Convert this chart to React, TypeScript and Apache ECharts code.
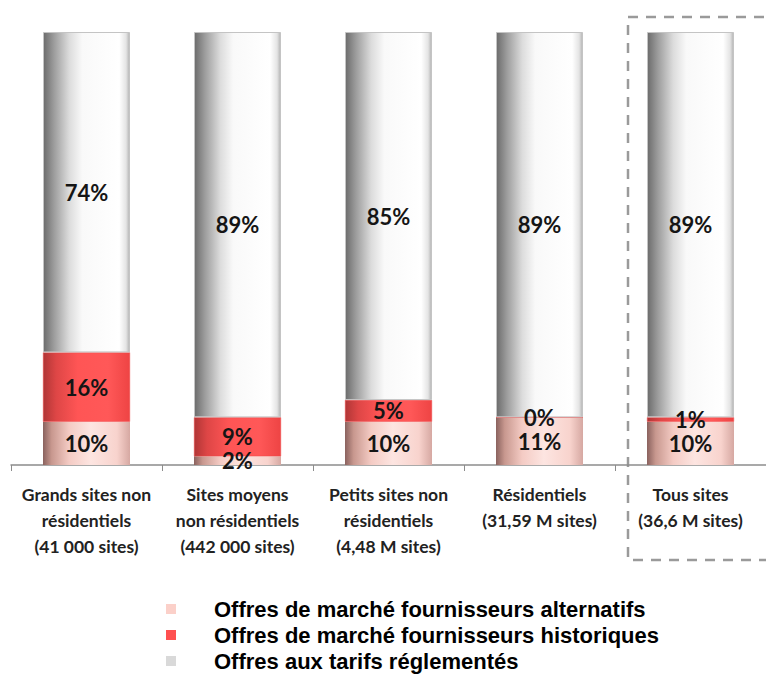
import React, { useEffect, useRef } from "react";
import * as echarts from "echarts";

const categories = [
  "Grands sites non\nrésidentiels\n(41 000 sites)",
  "Sites moyens\nnon résidentiels\n(442 000 sites)",
  "Petits sites non\nrésidentiels\n(4,48 M sites)",
  "Résidentiels\n(31,59 M sites)",
  "Tous sites\n(36,6 M sites)",
];
const seriesNames = [
  "Offres de marché fournisseurs alternatifs",
  "Offres de marché fournisseurs historiques",
  "Offres aux tarifs réglementés",
];
const alternatifs = [10, 2, 10, 11, 10];
const historiques = [16, 9, 5, 0, 1];
const reglementes = [74, 89, 85, 89, 89];
const legendColors = ["#fbd0c9", "#ff5050", "#d9d9d9"];

const grad = (stops: [number, string][]) =>
  new echarts.graphic.LinearGradient(
    0, 0, 1, 0,
    stops.map(([offset, color]) => ({ offset, color }))
  );

export default function App() {
  const ref = useRef<HTMLDivElement>(null);
  useEffect(() => {
    if (!ref.current) return;
    const chart = echarts.init(ref.current, undefined, { renderer: "svg" });
    const labelStyle = {
      show: true,
      position: "inside" as const,
      formatter: "{c}%",
      fontFamily: "Lato",
      fontWeight: "bold" as const,
      fontSize: 22,
      color: "#151515",
    };
    const pink = grad([
      [0, "#8a625e"], [0.1, "#c8988f"], [0.3, "#f4cbc4"], [0.55, "#fde5e1"],
      [0.85, "#f8d3cd"], [1, "#d6a8a2"],
    ]);
    const red = grad([
      [0, "#b03636"], [0.15, "#de4646"], [0.4, "#ff5555"], [0.75, "#ff5858"],
      [1, "#ee4444"],
    ]);
    const gray = grad([
      [0, "#6c6c6c"], [0.12, "#9c9c9c"], [0.3, "#dcdcdc"], [0.45, "#f9f9f9"],
      [0.88, "#ffffff"], [0.96, "#e4e4e4"], [1, "#b4b4b4"],
    ]);
    chart.setOption({
      animation: false,
      grid: { left: 11, top: 32, width: 762, bottom: 210, containLabel: false },
      xAxis: {
        type: "category",
        data: categories,
        axisLine: { lineStyle: { color: "#8c8c8c", width: 1.5 } },
        axisTick: { show: true, length: 6, lineStyle: { color: "#8c8c8c" } },
        axisLabel: {
          interval: 0,
          margin: 16,
          lineHeight: 26,
          fontFamily: "Lato",
          fontWeight: "bold",
          fontSize: 17.5,
          color: "#222",
        },
      },
      yAxis: { type: "value", min: 0, max: 100, show: false },
      legend: {
        orient: "vertical",
        left: 166,
        top: 598,
        padding: 0,
        itemWidth: 10,
        itemHeight: 10,
        itemGap: 4,
        icon: "rect",
        selectedMode: false,
        textStyle: {
          fontFamily: "Liberation Sans",
          fontWeight: "bold",
          fontSize: 22,
          lineHeight: 22,
          color: "#000",
          padding: [0, 0, 0, 33],
        },
        data: seriesNames.map((name, i) => ({
          name,
          itemStyle: { color: legendColors[i], borderWidth: 0 },
        })),
      },
      graphic: [
        {
          type: "rect",
          shape: { x: 628, y: 17, width: 150, height: 543 },
          style: { fill: "none", stroke: "#9a9a9a", lineWidth: 2.5, lineDash: [10, 8] },
          silent: true,
        },
      ],
      series: [
        {
          name: seriesNames[0],
          type: "bar",
          stack: "s",
          barWidth: 87,
          data: alternatifs,
          itemStyle: { color: pink },
          label: labelStyle,
        },
        {
          name: seriesNames[1],
          type: "bar",
          stack: "s",
          barWidth: 87,
          data: historiques,
          itemStyle: { color: red, borderColor: "#ee4444", borderWidth: 0.5 },
          label: labelStyle,
        },
        {
          name: seriesNames[2],
          type: "bar",
          stack: "s",
          barWidth: 87,
          data: reglementes,
          itemStyle: { color: gray, borderColor: "#c4c4c4", borderWidth: 1 },
          label: labelStyle,
        },
      ],
    });
    return () => chart.dispose();
  }, []);
  return (
    <div
      ref={ref}
      style={{ position: "absolute", left: 0, top: 0, width: 766, height: 675, background: "#fff" }}
    />
  );
}
